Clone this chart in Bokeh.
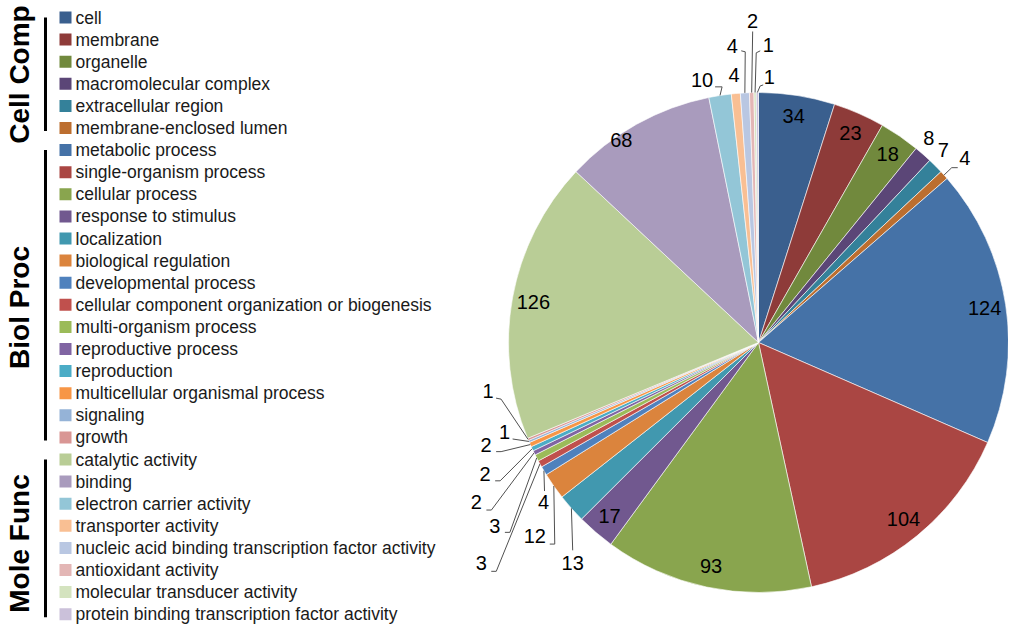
import math
from bokeh.plotting import figure
from bokeh.models import Range1d
from bokeh.embed import file_html
from bokeh.resources import INLINE
from bokeh.core.properties import value

# ---------------- data ----------------
group_names = ["Cell Comp", "Biol Proc", "Mole Func"]

cell_comp_terms = ["cell", "membrane", "organelle", "macromolecular complex",
                   "extracellular region", "membrane-enclosed lumen"]
cell_comp_counts = [34, 23, 18, 8, 7, 4]

biol_proc_terms = ["metabolic process", "single-organism process", "cellular process",
                   "response to stimulus", "localization", "biological regulation",
                   "developmental process", "cellular component organization or biogenesis",
                   "multi-organism process", "reproductive process", "reproduction",
                   "multicellular organismal process", "signaling", "growth"]
biol_proc_counts = [124, 104, 93, 17, 13, 12, 4, 3, 3, 2, 2, 2, 1, 1]

mole_func_terms = ["catalytic activity", "binding", "electron carrier activity",
                   "transporter activity", "nucleic acid binding transcription factor activity",
                   "antioxidant activity", "molecular transducer activity",
                   "protein binding transcription factor activity"]
mole_func_counts = [126, 68, 10, 4, 4, 2, 1, 1]

cell_comp_colors = ["#3A5F8E", "#8E3B39", "#71893D", "#5B4677", "#34819A", "#BC6E2F"]
biol_proc_colors = ["#4572A7", "#AA4643", "#89A54E", "#71588F", "#4198AF", "#DB843D",
                    "#4F81BD", "#C0504D", "#9BBB59", "#8064A2", "#4BACC6", "#F79646",
                    "#95B3D7", "#D99694"]
mole_func_colors = ["#B9CD96", "#A99BBD", "#93C6D7", "#F9BF93", "#B9C7E2", "#E3B6B5",
                    "#D4E3BF", "#CBC1DA"]

# ---------------- layout ----------------
CX, CY, R = 758, 342, 250          # pie centre (figure px) and radius
W, H = 1008, 628
SCALE = R / 257.0                  # label offsets were measured for R=257

# label positions overriding the default inside-label (offset from centre, px, y down)
label_offsets = {
    "macromolecular complex": (175, -210),
    "extracellular region": (190, -198),
    "membrane-enclosed lumen": (212, -190),
    "binding": (-141, -208),
    "localization": (-191, 227),
    "biological regulation": (-230, 199),
    "developmental process": (-221, 164),
    "cellular component organization or biogenesis": (-285, 227),
    "multi-organism process": (-271, 189),
    "reproductive process": (-290, 164),
    "reproduction": (-281, 135),
    "multicellular organismal process": (-280, 105),
    "signaling": (-261, 92),
    "growth": (-278, 50),
    "electron carrier activity": (-58, -270),
    "transporter activity": (-25, -275),
    "nucleic acid binding transcription factor activity": (-27, -305),
    "antioxidant activity": (-6, -330),
    "molecular transducer activity": (10, -306),
    "protein binding transcription factor activity": (11, -273),
}
# leader line points relative to label (px, y down); line ends on the pie edge
leader_paths = {
    "membrane-enclosed lumen": [(-7, 10), (-13, 10)],
    "localization": [(0, -13)],
    "biological regulation": [(15, 8), (20, 8)],
    "developmental process": [(1, -11)],
    "cellular component organization or biogenesis": [(10, 8), (15, 8)],
    "multi-organism process": [(10, 6), (15, 6)],
    "reproductive process": [(10, 8), (15, 8)],
    "reproduction": [(10, 7), (15, 7)],
    "multicellular organismal process": [(10, 7), (15, 7)],
    "signaling": [(8, 7)],
    "growth": [(8, 7), (13, 8)],
    "electron carrier activity": [(13, 7), (20, 7)],
    "nucleic acid binding transcription factor activity": [(9, 5), (13, 6)],
    "antioxidant activity": [(0, 10)],
    "molecular transducer activity": [(-8, 6), (-12, 8)],
    "protein binding transcription factor activity": [(-6, 8), (-9, 9)],
}

LEG_Y0, LEG_DY = 17, 22.1
LEG_SWATCH_X, LEG_TEXT_X, SWATCH = 65, 75, 12
BAR_X = 45
GROUP_LABEL_X = 19
group_label_y = [74, 307, 543]

FONT = "Liberation Sans"


def dx(sx):
    return sx - CX


def dy(sy):
    return CY - sy


terms = cell_comp_terms + biol_proc_terms + mole_func_terms
counts = cell_comp_counts + biol_proc_counts + mole_func_counts
colors = cell_comp_colors + biol_proc_colors + mole_func_colors
total = float(sum(counts))

p = figure(width=W, height=H, output_backend="svg", toolbar_location=None,
           x_range=Range1d(dx(0), dx(W)),
           y_range=Range1d(dy(H), dy(0)),
           min_border=0)
p.axis.visible = False
p.grid.visible = False
p.outline_line_color = None
p.background_fill_color = "white"
p.border_fill_color = "white"

# ---- pie ----
starts, ends, mids = [], [], []
cum = 0
for c in counts:
    a0 = cum / total * 2 * math.pi
    cum += c
    a1 = cum / total * 2 * math.pi
    # clockwise from 12 o'clock -> math angles
    starts.append(math.pi / 2 - a1)
    ends.append(math.pi / 2 - a0)
    mids.append((a0 + a1) / 2)

p.wedge(x=[0] * len(counts), y=[0] * len(counts), radius=R,
        start_angle=starts, end_angle=ends, direction="anticlock",
        fill_color=colors, line_color="white", line_width=0.6)

# ---- slice labels ----
lx, ly, lt = [], [], []
lines_x, lines_y = [], []
for t, c, m in zip(terms, counts, mids):
    if t in label_offsets:
        ox, oy = label_offsets[t]
        ox, oy = ox * SCALE, oy * SCALE
    else:
        r = 0.915 * R
        ox, oy = r * math.sin(m), -r * math.cos(m)
    lx.append(ox)
    ly.append(-oy)
    lt.append(str(c))
    if t in leader_paths:
        xs = [ox + px for px, py in leader_paths[t]]
        ys = [-(oy + py) for px, py in leader_paths[t]]
        xs.append(R * math.sin(m))
        ys.append(R * math.cos(m))
        lines_x.append(xs)
        lines_y.append(ys)

p.multi_line(xs=lines_x, ys=lines_y, line_color="#505050", line_width=1)
p.text(x=lx, y=ly, text=lt, text_align="center", text_baseline="middle",
       text_font=value(FONT), text_font_size=value("20px"), text_color="black")

# ---- legend ----
rows_y = [dy(LEG_Y0 + i * LEG_DY) for i in range(len(terms))]
p.rect(x=[dx(LEG_SWATCH_X)] * len(terms), y=rows_y, width=SWATCH, height=SWATCH,
       fill_color=colors, line_color=None)
p.text(x=[dx(LEG_TEXT_X)] * len(terms), y=rows_y, text=terms, text_align="left",
       text_baseline="middle", text_font=value(FONT), text_font_size=value("17.5px"),
       text_color="#1a1a1a")

# ---- group bars & labels ----
sizes = [len(cell_comp_terms), len(biol_proc_terms), len(mole_func_terms)]
first = 0
bx, by = [], []
for n in sizes:
    top = LEG_Y0 + first * LEG_DY
    bot = LEG_Y0 + (first + n - 1) * LEG_DY + 3
    bx.append([dx(BAR_X), dx(BAR_X)])
    by.append([dy(top), dy(bot)])
    first += n
p.multi_line(xs=bx, ys=by, line_color="black", line_width=3)

p.text(x=[dx(GROUP_LABEL_X)] * 3, y=[dy(v) for v in group_label_y], text=group_names,
       angle=math.pi / 2, text_align="center", text_baseline="middle",
       text_font=value(FONT), text_font_size=value("28px"), text_font_style="bold",
       text_color="black")

open("out.html", "w").write(file_html(p, INLINE))
